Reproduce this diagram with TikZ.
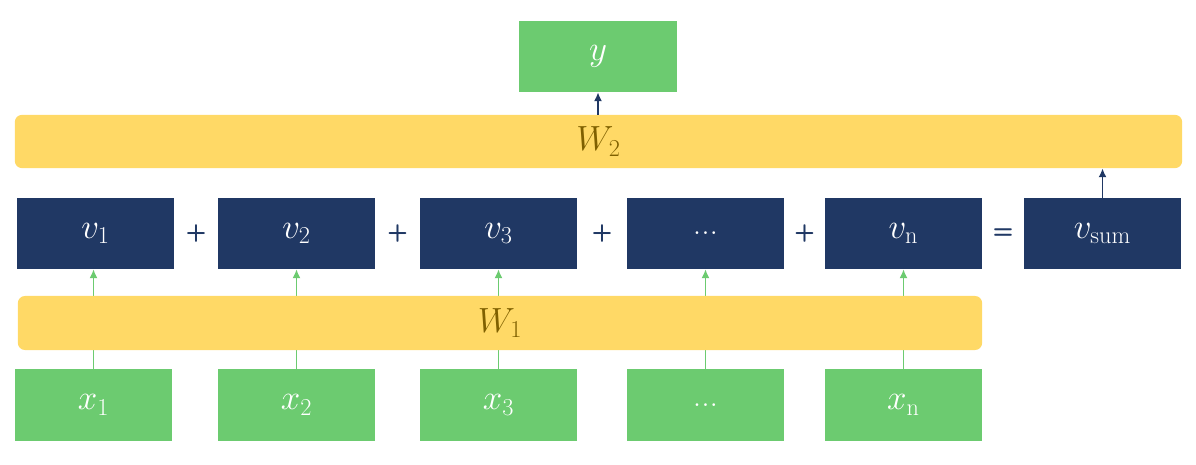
\documentclass[tikz,border=0pt]{standalone}
\usepackage{tikz}
\usetikzlibrary{arrows.meta,positioning,calc}
\usepackage{xcolor}
\usepackage{amsmath}
\definecolor{inputgreen}{RGB}{108,203,112}
\definecolor{vecnavy}{RGB}{32,56,100}
\definecolor{weightyellow}{RGB}{255,217,102}
\definecolor{weighttext}{RGB}{127,96,0}

\begin{document}
\begin{tikzpicture}[
    x=0.025cm, y=-0.025cm,
    inbox/.style={rectangle, fill=inputgreen, text=white, minimum width=3.925cm,
                 minimum height=1.775cm, font=\fontsize{24}{28}\selectfont},
    vecbox/.style={rectangle, fill=vecnavy, text=white, minimum width=3.925cm,
                 minimum height=1.775cm, font=\fontsize{24}{28}\selectfont},
    wbar/.style={rectangle, rounded corners=5pt, fill=weightyellow, text=weighttext,
                 minimum height=1.33cm, font=\fontsize{24}{28}\selectfont},
    opsign/.style={text=vecnavy, font=\sffamily\bfseries\fontsize{17}{20}\selectfont},
    garr/.style={-{Latex[length=2.2mm,width=2mm]}, line width=1.1pt, inputgreen},
    narr/.style={-{Latex[length=2.2mm,width=2mm]}, line width=1.2pt, vecnavy}
]
\useasboundingbox (0,0) rectangle (1196,465);
% input row
\node[inbox] (x1) at (93.5,405) {$x_1$};
\node[inbox] (x2) at (296.5,405) {$x_2$};
\node[inbox] (x3) at (498.5,405) {$x_3$};
\node[inbox] (xd) at (705.5,405) {...};
\node[inbox] (xn) at (903.5,405) {$x_{\mathrm{n}}$};
% vector row
\node[vecbox] (v1) at (95.5,233.5) {$v_1$};
\node[vecbox] (v2) at (296.5,233.5) {$v_2$};
\node[vecbox] (v3) at (498.5,233.5) {$v_3$};
\node[vecbox] (vd) at (705.5,233.5) {...};
\node[vecbox] (vn) at (903.5,233.5) {$v_{\mathrm{n}}$};
\node[vecbox] (vsum) at (1102.5,233.5) {$v_{\mathrm{sum}}$};
\node[opsign] at ($(v1.east)!0.5!(v2.west)$) {+};
\node[opsign] at ($(v2.east)!0.5!(v3.west)$) {+};
\node[opsign] at ($(v3.east)!0.5!(vd.west)$) {+};
\node[opsign] at ($(vd.east)!0.5!(vn.west)$) {+};
\node[opsign] at ($(vn.east)!0.5!(vsum.west)$) {=};
% output
\node[wbar, minimum width=29.175cm] (w2) at (598.5,141.5) {$W_2$};
\node[inbox, minimum width=3.95cm] (y) at (598,56.5) {$y$};
\draw[narr] (w2.north -| y) -- (y.south);
\draw[narr] (vsum.north) -- (vsum.north |- w2.south);
% green arrows pass behind W1
\draw[garr] (x1.north) -- (x1.north |- v1.south);
\draw[garr] (x2.north) -- (v2.south);
\draw[garr] (x3.north) -- (v3.south);
\draw[garr] (xd.north) -- (vd.south);
\draw[garr] (xn.north) -- (vn.south);
\node[wbar, minimum width=24.1cm, minimum height=1.35cm] (w1) at (500,323) {$W_1$};
\end{tikzpicture}
\end{document}
